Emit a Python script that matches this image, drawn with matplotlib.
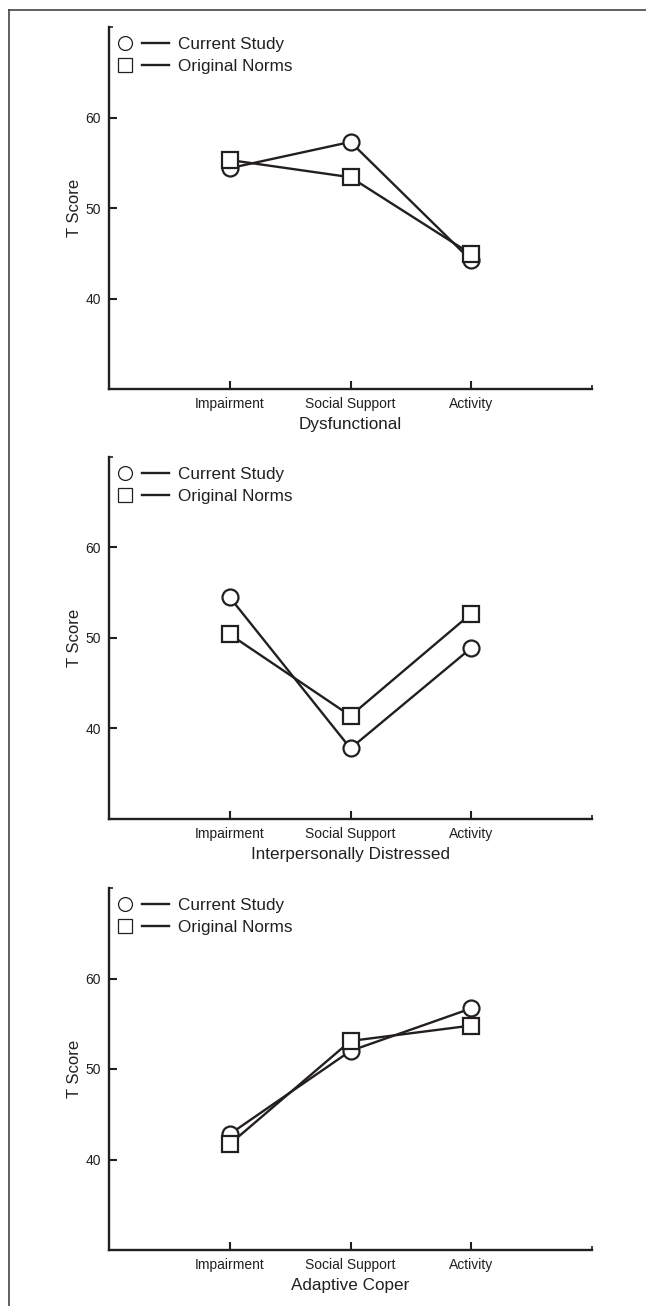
import matplotlib
matplotlib.use('Agg')
import matplotlib.pyplot as plt
from matplotlib.lines import Line2D
from matplotlib.legend_handler import HandlerTuple

plt.rcParams['font.family'] = ['Liberation Sans', 'DejaVu Sans']

categories = ['Impairment', 'Social Support', 'Activity']
panel_titles = ['Dysfunctional', 'Interpersonally Distressed', 'Adaptive Coper']
current_study = [
    [54.4, 57.3, 44.2],
    [54.5, 37.8, 48.9],
    [42.8, 52.0, 56.7],
]
original_norms = [
    [55.3, 53.4, 44.9],
    [50.4, 41.4, 52.7],
    [41.7, 53.1, 54.8],
]
yticks = [40, 50, 60]

ink = '#231f20'
W, H = 646, 1306
fig = plt.figure(figsize=(W / 100, H / 100), dpi=100)

# frame round the figure (only top and left edges are visible in the reference)
fig.add_artist(Line2D([9 / W, 9 / W], [0, 1 - 10 / H], transform=fig.transFigure, color='#444444', lw=1.2))
fig.add_artist(Line2D([9 / W, 1], [1 - 10 / H, 1 - 10 / H], transform=fig.transFigure, color='#444444', lw=1.2))

x = [1, 2, 3]
bottoms_px = [389, 819, 1250]
for i in range(3):
    b = bottoms_px[i]
    ax = fig.add_axes([109 / W, 1 - b / H, (592 - 109) / W, 362 / H])
    ax.plot(x, current_study[i], color=ink, lw=1.7, marker='o', ms=11.5,
            mfc='white', mec=ink, mew=1.6, zorder=3)
    ax.plot(x, original_norms[i], color=ink, lw=1.7, marker='s', ms=11,
            mfc='white', mec=ink, mew=1.6, zorder=4)
    ax.set_xlim(0, 4)
    ax.set_ylim(30, 70)
    ax.set_xticks(x)
    ax.set_xticklabels(categories, fontsize=10, color=ink)
    ax.set_yticks(yticks)
    ax.set_yticklabels([str(v) for v in yticks], fontsize=10, color=ink)
    ax.set_xticks([4], minor=True)
    ax.set_yticks([70], minor=True)
    ax.tick_params(which='major', direction='in', length=6, width=1.5, color=ink, pad=6)
    ax.tick_params(which='minor', direction='in', length=3, width=1.2, color=ink)
    ax.tick_params(axis='y', which='major', pad=6)
    for s in ['top', 'right']:
        ax.spines[s].set_visible(False)
    for s in ['left', 'bottom']:
        ax.spines[s].set_linewidth(1.7)
        ax.spines[s].set_color(ink)
    ax.set_ylabel('T Score', fontsize=12, color=ink, labelpad=2.5)
    ax.set_xlabel(panel_titles[i], fontsize=12.3, color=ink, labelpad=4)

    h_cur = (Line2D([], [], ls='none', marker='o', ms=10, mfc='white', mec=ink, mew=0.9),
             Line2D([], [], color=ink, lw=1.7))
    h_org = (Line2D([], [], ls='none', marker='s', ms=9.5, mfc='white', mec=ink, mew=0.9),
             Line2D([], [], color=ink, lw=1.7))
    ax.legend([h_cur, h_org], ['Current Study', 'Original Norms'],
              handler_map={tuple: HandlerTuple(ndivide=None, pad=0.2)},
              loc='upper left', bbox_to_anchor=(-0.0104, 0.9945),
              frameon=False, fontsize=12.3, handlelength=3.36,
              handletextpad=0.53, labelspacing=0.45, borderaxespad=0.0,
              borderpad=0.45, labelcolor=ink)

fig.savefig('out.png', dpi=100)
